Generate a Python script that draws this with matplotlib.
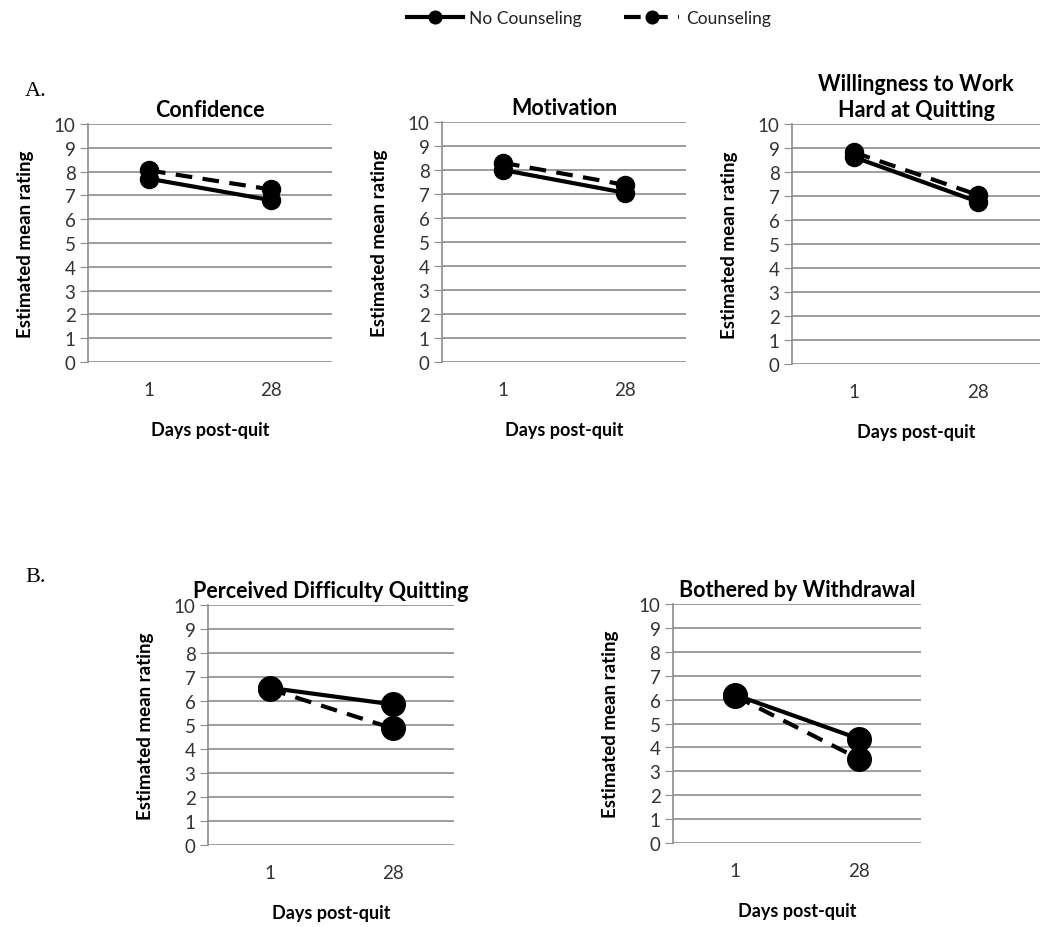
import matplotlib
matplotlib.use("Agg")
import matplotlib.pyplot as plt

plt.rcParams['font.family'] = ['Lato', 'DejaVu Sans']

days = ["1", "28"]
titles = ["Confidence", "Motivation", "Willingness to Work\nHard at Quitting",
          "Perceived Difficulty Quitting", "Bothered by Withdrawal"]
no_counseling = [[7.7, 6.8], [8.0, 7.05], [8.62, 6.76], [6.55, 5.86], [6.2, 4.36]]
counseling = [[8.05, 7.25], [8.3, 7.38], [8.82, 7.04], [6.5, 4.86], [6.15, 3.52]]

# axes boxes in pixels: left, top, width, height
boxes = [(88, 125, 244, 238), (442, 123, 244, 240), (792, 125, 248, 240),
         (208, 606, 246, 240), (673, 605, 248, 239)]
msizes = [13, 13, 13, 17, 17]

W, H = 1050, 928
fig = plt.figure(figsize=(W / 100, H / 100), dpi=100)

grid_c = '#8c8c8c'
tick_c = '#333333'
for i, (l, t, w, h) in enumerate(boxes):
    ax = fig.add_axes([l / W, (H - t - h) / H, w / W, h / H])
    x = range(len(days))
    ln1, = ax.plot(x, no_counseling[i], color='black', lw=3, marker='o', ms=msizes[i],
                   label='No Counseling', zorder=3)
    ln2, = ax.plot(x, counseling[i], color='black', lw=3, ls=(0, (4, 2.5)), marker='o',
                   ms=msizes[i], label='Counseling', zorder=3)
    ax.set_xlim(-0.5, 1.5)
    ax.set_ylim(0, 10)
    ax.set_yticks(range(0, 11))
    ax.set_xticks(list(x))
    ax.set_xticklabels(days)
    ax.grid(axis='y', color=grid_c, lw=1.2)
    ax.set_axisbelow(True)
    for s in ['top', 'right', 'bottom']:
        ax.spines[s].set_visible(False)
    ax.spines['left'].set_color(grid_c)
    ax.spines['left'].set_linewidth(1.2)
    ax.tick_params(axis='y', length=6, color=grid_c, labelsize=13.5, labelcolor=tick_c, pad=3)
    ax.tick_params(axis='x', length=0, labelsize=13.5, labelcolor=tick_c, pad=14)
    ax.set_ylabel('Estimated mean rating', fontsize=13.5, fontweight='bold', labelpad=14)
    ax.set_xlabel('Days post-quit', fontsize=13, fontweight='bold', labelpad=16)
    ax.set_title(titles[i], fontsize=15.5, fontweight='bold', pad=6, linespacing=1.25)
    if i == 0:
        handles = [ln1, ln2]

fig.legend(handles=handles, loc='center', bbox_to_anchor=(0.561, 1 - 19 / H), ncol=2,
           frameon=False, prop={'size': 12.5}, labelcolor='#222222', handlelength=3.2,
           columnspacing=2.4, handletextpad=0.4, markerscale=0.7)

fig.text(25 / W, 1 - 92 / H, 'A.', family='Liberation Serif', fontsize=16, va='center')
fig.text(25 / W, 1 - 578 / H, 'B.', family='Liberation Serif', fontsize=16, va='center')

fig.savefig('out.png', dpi=100)
